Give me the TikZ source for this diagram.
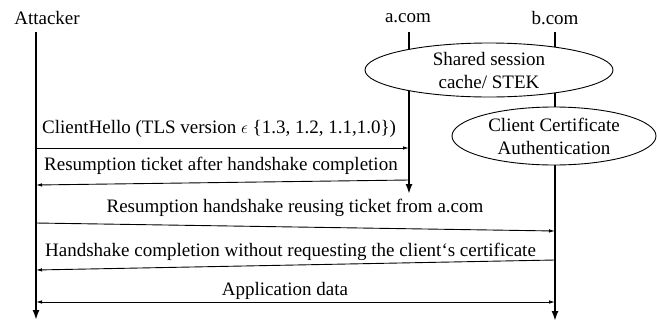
\documentclass[tikz,border=0pt]{standalone}
\usepackage{fontspec}
\setmainfont{Liberation Serif}
\usetikzlibrary{arrows.meta,shapes.geometric}
\begin{document}
\begin{tikzpicture}[x=1pt,y=-1pt,
  lbl/.style={font=\fontsize{19}{22}\selectfont, inner sep=0pt},
  life/.style={line width=1.8pt, -{Latex[length=10pt,width=7pt]}},
  msg/.style={line width=0.9pt, -{Latex[length=6pt,width=3.5pt]}},
  msgb/.style={line width=0.9pt, {Latex[length=6pt,width=3.5pt]}-{Latex[length=6pt,width=3.5pt]}},
  cloud/.style={ellipse, draw, line width=0.9pt, fill=white, inner sep=0pt, align=center, font=\fontsize{19}{23}\selectfont}]
\useasboundingbox (0,0) rectangle (657,322);
% participants
\node[lbl] (atk) at (47,18) {Attacker};
\node[lbl] (acom) at (408,18) {a.com};
\node[lbl] (bcom) at (555,18) {b.com};
\coordinate (atkT) at (36,32);  \coordinate (atkB) at (36,320);
\coordinate (acomT) at (409,32); \coordinate (acomB) at (409,194);
\coordinate (bcomT) at (555,32); \coordinate (bcomB) at (555,321);
\draw[life] (atkT) -- (atkB);
\draw[life] (acomT) -- (acomB);
\draw[life] (bcomT) -- (bcomB);
% ellipses
\node[cloud, minimum width=248pt, minimum height=54pt] (cache) at (489,70) {Shared session\\cache/ STEK};
\node[cloud, minimum width=204pt, minimum height=58pt] (cca) at (554,136) {Client Certificate\\Authentication};
% messages
\coordinate (m1a) at (36,148); \coordinate (m1b) at (409,148);
\draw[msg] (m1a) -- (m1b);
\node[lbl, anchor=west] (t1) at (42,129) {ClientHello (TLS version $\epsilon$ \{1.3, 1.2, 1.1,1.0\})};
\coordinate (m2a) at (409,180); \coordinate (m2b) at (36,185);
\draw[msg] (m2a) -- (m2b);
\node[lbl, anchor=west] (t2) at (44,166) {Resumption ticket after handshake completion};
\coordinate (m3a) at (36,223); \coordinate (m3b) at (555,231);
\draw[msg] (m3a) -- (m3b);
\node[lbl] (t3) at (295,208) {Resumption handshake reusing ticket from a.com};
\coordinate (m4a) at (555,260); \coordinate (m4b) at (36,270);
\draw[msg] (m4a) -- (m4b);
\node[lbl, anchor=west] (t4) at (45,252) {Handshake completion without requesting the client‘s certificate};
\coordinate (m5a) at (36,302); \coordinate (m5b) at (555,302);
\draw[msgb] (m5a) -- (m5b);
\node[lbl] (t5) at (285,291) {Application data};
\end{tikzpicture}
\end{document}
